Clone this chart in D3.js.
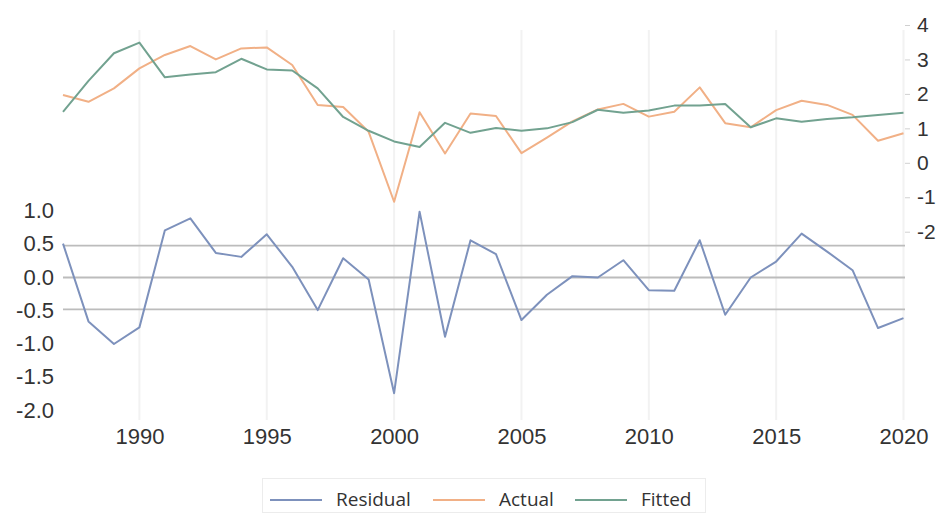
<!DOCTYPE html>
<html>
<head>
<meta charset="utf-8">
<script src="https://cdn.jsdelivr.net/npm/d3@7"></script>
<style>
  html, body { margin: 0; padding: 0; background: #ffffff; }
  svg { display: block; font-family: "Open Sans", "Noto Sans", sans-serif; }
</style>
</head>
<body>
<svg id="chart" width="941" height="515"></svg>
<script>
// Annual observations, 1987-2020
const years = d3.range(1987, 2021);

const actual = [1.97, 1.77, 2.16, 2.74, 3.13, 3.39, 3.00, 3.32, 3.35, 2.84,
                1.68, 1.62, 0.90, -1.13, 1.47, 0.27, 1.43, 1.36, 0.28, 0.73,
                1.20, 1.55, 1.71, 1.34, 1.48, 2.19, 1.15, 1.03, 1.53, 1.80,
                1.68, 1.39, 0.64, 0.86];

const fitted = [1.48, 2.38, 3.18, 3.49, 2.48, 2.56, 2.63, 3.02, 2.71, 2.68,
                2.16, 1.33, 0.93, 0.62, 0.46, 1.16, 0.87, 1.01, 0.93, 1.00,
                1.18, 1.54, 1.45, 1.52, 1.66, 1.66, 1.71, 1.03, 1.29, 1.19,
                1.27, 1.32, 1.39, 1.45];

const residual = [0.51, -0.66, -1.00, -0.75, 0.71, 0.89, 0.37, 0.31, 0.65, 0.16,
                  -0.49, 0.29, -0.03, -1.74, 0.99, -0.89, 0.56, 0.35, -0.64, -0.26,
                  0.02, 0.00, 0.26, -0.19, -0.20, 0.56, -0.56, 0.00, 0.24, 0.66,
                  0.39, 0.11, -0.76, -0.61];

// Standard-error band drawn around the zero residual line
const residualBand = 0.48;

const xTicks = [1990, 1995, 2000, 2005, 2010, 2015, 2020];
const leftTicks = [1.0, 0.5, 0.0, -0.5, -1.0, -1.5, -2.0];
const rightTicks = [4, 3, 2, 1, 0, -1, -2];

const seriesNames = ["Residual", "Actual", "Fitted"];
const colors = { Residual: "#7d91bc", Actual: "#f1b086", Fitted: "#72a290" };

const svg = d3.select("#chart");

const x = d3.scaleLinear().domain([1987, 2020]).range([63, 903.5]);
const yL = d3.scaleLinear().domain([-2, 1]).range([410.5, 211]);
const yR = d3.scaleLinear().domain([-2, 4]).range([231.7, 25]);

// Faint vertical gridlines at the labelled years
svg.append("g")
  .selectAll("line")
  .data(xTicks)
  .join("line")
  .attr("x1", d => x(d)).attr("x2", d => x(d))
  .attr("y1", 30).attr("y2", 420)
  .attr("stroke", "#f2f2f2")
  .attr("stroke-width", 2);

// Zero line and the +/- band lines for the residual
svg.append("g")
  .selectAll("line")
  .data([residualBand, 0, -residualBand])
  .join("line")
  .attr("x1", x(1987)).attr("x2", 905)
  .attr("y1", d => yL(d)).attr("y2", d => yL(d))
  .attr("stroke", "#bcbcbc")
  .attr("stroke-width", 1.8);

const lineOf = (vals, y) => d3.line()
  .x((d, i) => x(years[i]))
  .y(d => y(d))(vals);

svg.append("path")
  .attr("d", lineOf(residual, yL))
  .attr("fill", "none")
  .attr("stroke", colors.Residual)
  .attr("stroke-width", 2)
  .attr("stroke-linejoin", "round");

svg.append("path")
  .attr("d", lineOf(actual, yR))
  .attr("fill", "none")
  .attr("stroke", colors.Actual)
  .attr("stroke-width", 2)
  .attr("stroke-linejoin", "round");

svg.append("path")
  .attr("d", lineOf(fitted, yR))
  .attr("fill", "none")
  .attr("stroke", colors.Fitted)
  .attr("stroke-width", 2)
  .attr("stroke-linejoin", "round");

const textColor = "#333333";

// Left axis (residual)
const leftAxis = svg.append("g")
  .attr("transform", "translate(54,0)")
  .call(d3.axisLeft(yL).tickValues(leftTicks).tickFormat(d3.format(".1f")).tickSize(0).tickPadding(0));
leftAxis.select(".domain").remove();
leftAxis.selectAll("text")
  .attr("fill", textColor)
  .attr("font-size", 22)
  .attr("dy", "0.3em")
  .text(d => d3.format(".1f")(d).replace("−", "-"));

// Right axis (actual and fitted)
const rightAxis = svg.append("g")
  .attr("transform", "translate(905,0)")
  .call(d3.axisRight(yR).tickValues(rightTicks).tickFormat(d3.format("d")).tickSize(5).tickPadding(7));
rightAxis.select(".domain").remove();
rightAxis.selectAll("line").attr("stroke", "#d0d0d0");
rightAxis.selectAll("text")
  .attr("fill", textColor)
  .attr("font-size", 21)
  .attr("dy", "0.32em")
  .text(d => String(d).replace("−", "-"));

// Bottom axis (years)
const bottomAxis = svg.append("g")
  .attr("transform", "translate(0,426)")
  .call(d3.axisBottom(x).tickValues(xTicks).tickFormat(d3.format("d")).tickSize(0).tickPadding(0));
bottomAxis.select(".domain").remove();
bottomAxis.selectAll("text")
  .attr("fill", textColor)
  .attr("font-size", 22)
  .attr("dy", "0.82em");

// Legend
const legend = svg.append("g");
legend.append("rect")
  .attr("x", 262.5).attr("y", 478.5)
  .attr("width", 443).attr("height", 34)
  .attr("fill", "#ffffff")
  .attr("stroke", "#ececec");

const legendX = [270, 433, 575];
seriesNames.forEach((name, i) => {
  const g = legend.append("g").attr("transform", `translate(${legendX[i]},500)`);
  g.append("line")
    .attr("x1", 0).attr("x2", 52)
    .attr("y1", 0).attr("y2", 0)
    .attr("stroke", colors[name])
    .attr("stroke-width", 2);
  g.append("text")
    .attr("x", 66).attr("y", 0)
    .attr("dy", "0.3em")
    .attr("font-size", 19)
    .attr("fill", textColor)
    .text(name);
});
</script>
</body>
</html>
